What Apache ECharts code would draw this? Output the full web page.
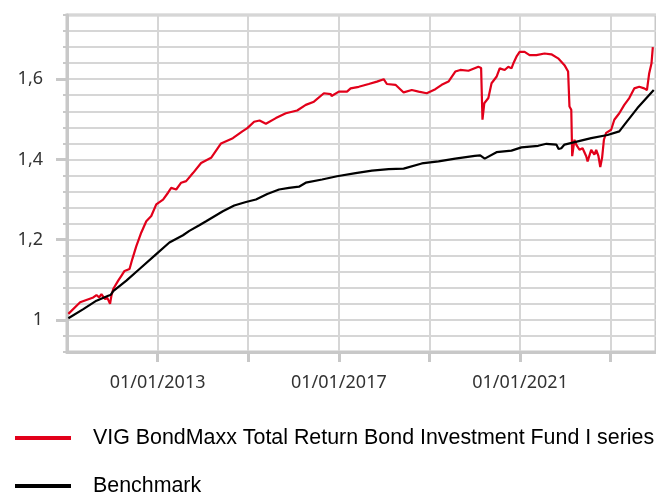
<!DOCTYPE html>
<html>
<head>
<meta charset="utf-8">
<script src="https://cdn.jsdelivr.net/npm/echarts@6/dist/echarts.min.js"></script>
<style>
  html, body { margin: 0; padding: 0; background: #fff; }
  #chart { width: 656px; height: 493px; }
</style>
</head>
<body>
<div id="chart"></div>
<script>
// fund (red) - dates as decimal years
var fundDates = [2011.03, 2011.29, 2011.58, 2011.65, 2011.71, 2011.76, 2011.84, 2011.89, 2011.95, 2011.98,
  2012.02, 2012.13, 2012.20, 2012.27, 2012.38, 2012.44, 2012.53, 2012.64, 2012.75, 2012.86, 2012.97,
  2013.12, 2013.23, 2013.30, 2013.41, 2013.52, 2013.63, 2013.78, 2013.96, 2014.18, 2014.40, 2014.66,
  2014.87, 2014.98, 2015.13, 2015.25, 2015.39, 2015.61, 2015.83, 2016.08, 2016.27, 2016.45, 2016.67,
  2016.82, 2016.84, 2017.00, 2017.18, 2017.26, 2017.44, 2017.48, 2017.66, 2017.84, 2017.99, 2018.06,
  2018.25, 2018.43, 2018.61, 2018.76, 2018.94, 2019.13, 2019.27, 2019.42, 2019.57, 2019.68, 2019.86,
  2020.08, 2020.14, 2020.17, 2020.21, 2020.30, 2020.37, 2020.48, 2020.55, 2020.66, 2020.74, 2020.81,
  2020.85, 2020.92, 2020.99, 2021.10, 2021.21, 2021.36, 2021.54, 2021.69, 2021.84, 2021.98, 2022.06,
  2022.09, 2022.13, 2022.15, 2022.20, 2022.24, 2022.31, 2022.38, 2022.46, 2022.49, 2022.57, 2022.64,
  2022.68, 2022.73, 2022.77, 2022.81, 2022.85, 2022.90, 2023.01, 2023.08, 2023.19, 2023.30, 2023.41,
  2023.52, 2023.63, 2023.74, 2023.80, 2023.85, 2023.90, 2023.93];
var fundValues = [1.015, 1.044, 1.056, 1.062, 1.056, 1.064, 1.052, 1.055, 1.040, 1.060,
  1.077, 1.098, 1.110, 1.122, 1.127, 1.151, 1.184, 1.218, 1.246, 1.259, 1.288,
  1.300, 1.317, 1.329, 1.325, 1.342, 1.346, 1.366, 1.391, 1.404, 1.440, 1.453,
  1.470, 1.478, 1.494, 1.497, 1.489, 1.503, 1.515, 1.522, 1.536, 1.544, 1.565,
  1.563, 1.558, 1.569, 1.569, 1.577, 1.581, 1.577, 1.588, 1.594, 1.600, 1.588,
  1.586, 1.567, 1.573, 1.569, 1.565, 1.575, 1.586, 1.594, 1.619, 1.623, 1.621,
  1.631, 1.628, 1.499, 1.540, 1.553, 1.590, 1.606, 1.627, 1.623, 1.631, 1.627,
  1.639, 1.656, 1.668, 1.668, 1.660, 1.660, 1.664, 1.662, 1.652, 1.635, 1.619,
  1.532, 1.524, 1.408, 1.449, 1.437, 1.424, 1.428, 1.408, 1.395, 1.424, 1.412,
  1.424, 1.408, 1.381, 1.404, 1.449, 1.466, 1.474, 1.499, 1.515, 1.536, 1.553,
  1.577, 1.581, 1.577, 1.573, 1.615, 1.639, 1.680];

// benchmark (black)
var benchDates = [2011.03, 2011.36, 2011.65, 2011.91, 2011.96, 2012.02, 2012.31, 2012.60, 2012.97, 2013.26,
  2013.56, 2013.70, 2013.92, 2014.07, 2014.44, 2014.69, 2014.95, 2015.17, 2015.42, 2015.68, 2015.90,
  2016.12, 2016.27, 2016.63, 2016.96, 2017.37, 2017.73, 2018.10, 2018.43, 2018.83, 2019.20, 2019.57,
  2020.00, 2020.12, 2020.22, 2020.48, 2020.81, 2021.03, 2021.40, 2021.58, 2021.80, 2021.85, 2021.91,
  2021.98, 2022.57, 2022.93, 2023.19, 2023.30, 2023.59, 2023.95];
var benchValues = [1.004, 1.027, 1.048, 1.060, 1.062, 1.072, 1.098, 1.127, 1.164, 1.193,
  1.211, 1.222, 1.236, 1.246, 1.271, 1.285, 1.294, 1.300, 1.314, 1.325, 1.329,
  1.332, 1.342, 1.350, 1.358, 1.366, 1.372, 1.376, 1.377, 1.390, 1.395, 1.402,
  1.409, 1.410, 1.402, 1.418, 1.422, 1.430, 1.434, 1.439, 1.437, 1.426, 1.428,
  1.437, 1.453, 1.461, 1.470, 1.486, 1.528, 1.573];

var seriesNames = ['VIG BondMaxx Total Return Bond Investment Fund I series', 'Benchmark'];
var yTickLabels = [1, 1.2, 1.4, 1.6];
var xLabelYears = [2013, 2017, 2021];
var xTickYears = [2013, 2015, 2017, 2019, 2021, 2023];
var startYear = 2011;

function pairs(dates, values) {
  var out = [];
  for (var i = 0; i < dates.length; i++) out.push([dates[i] - startYear, values[i]]);
  return out;
}

var chart = echarts.init(document.getElementById('chart'));

var gridGrey = '#d6d6d6';
var axisGrey = '#c8c8c8';
var labelFont = 'Noto Sans';

// one legend block per series, stacked
function legendFor(name, top) {
  return {
    orient: 'vertical',
    left: 10, top: top,
    itemWidth: 56, itemHeight: 4,
    icon: 'rect',
    data: [name],
    textStyle: {
      fontFamily: 'Liberation Sans', fontSize: 21.4, color: '#000',
      lineHeight: 24, padding: [0, 0, 0, 17]
    }
  };
}

var option = {
  animation: false,
  grid: {
    left: 67, right: -3, top: 15, bottom: 141,
    show: true, borderColor: axisGrey, borderWidth: 3, containLabel: false
  },
  xAxis: {
    type: 'value',
    min: 0, max: 13, interval: 2,
    axisLine: { show: true, lineStyle: { color: axisGrey, width: 3 } },
    axisTick: {
      show: true, length: 10, lineStyle: { color: axisGrey, width: 3 },
      customValues: xTickYears.map(function (y) { return y - startYear; })
    },
    splitLine: { show: true, lineStyle: { color: gridGrey, width: 2 } },
    axisLabel: {
      margin: 22, color: '#333', fontFamily: labelFont, fontSize: 18,
      customValues: xLabelYears.map(function (y) { return y - startYear; }),
      formatter: function (v) { return '01/01/' + Math.round(startYear + v); }
    }
  },
  yAxis: [{
    type: 'value',
    min: 0.92, max: 1.76, interval: 0.04,
    axisLine: { show: true, lineStyle: { color: axisGrey, width: 3 } },
    axisTick: { show: true, length: 4, lineStyle: { color: axisGrey, width: 2 } },
    splitLine: { show: true, lineStyle: { color: gridGrey, width: 2 } },
    axisLabel: { show: false }
  }, {
    type: 'value',
    position: 'left',
    min: 0.92, max: 1.76,
    axisLine: { show: false },
    splitLine: { show: false },
    axisTick: { show: true, length: 11, customValues: yTickLabels, lineStyle: { color: axisGrey, width: 3 } },
    axisLabel: {
      margin: 24, color: '#333', fontFamily: labelFont, fontSize: 18,
      customValues: yTickLabels,
      formatter: function (v) { return String(Math.round(v * 10) / 10).replace('.', ','); }
    }
  }],
  legend: [legendFor(seriesNames[0], 421), legendFor(seriesNames[1], 469)],
  series: [{
    name: seriesNames[0],
    type: 'line',
    data: pairs(fundDates, fundValues),
    showSymbol: false,
    color: '#e2001a',
    lineStyle: { width: 2.2, color: '#e2001a' }
  }, {
    name: seriesNames[1],
    type: 'line',
    data: pairs(benchDates, benchValues),
    showSymbol: false,
    color: '#000',
    lineStyle: { width: 2.2, color: '#000' }
  }]
};

chart.setOption(option);
</script>
</body>
</html>
